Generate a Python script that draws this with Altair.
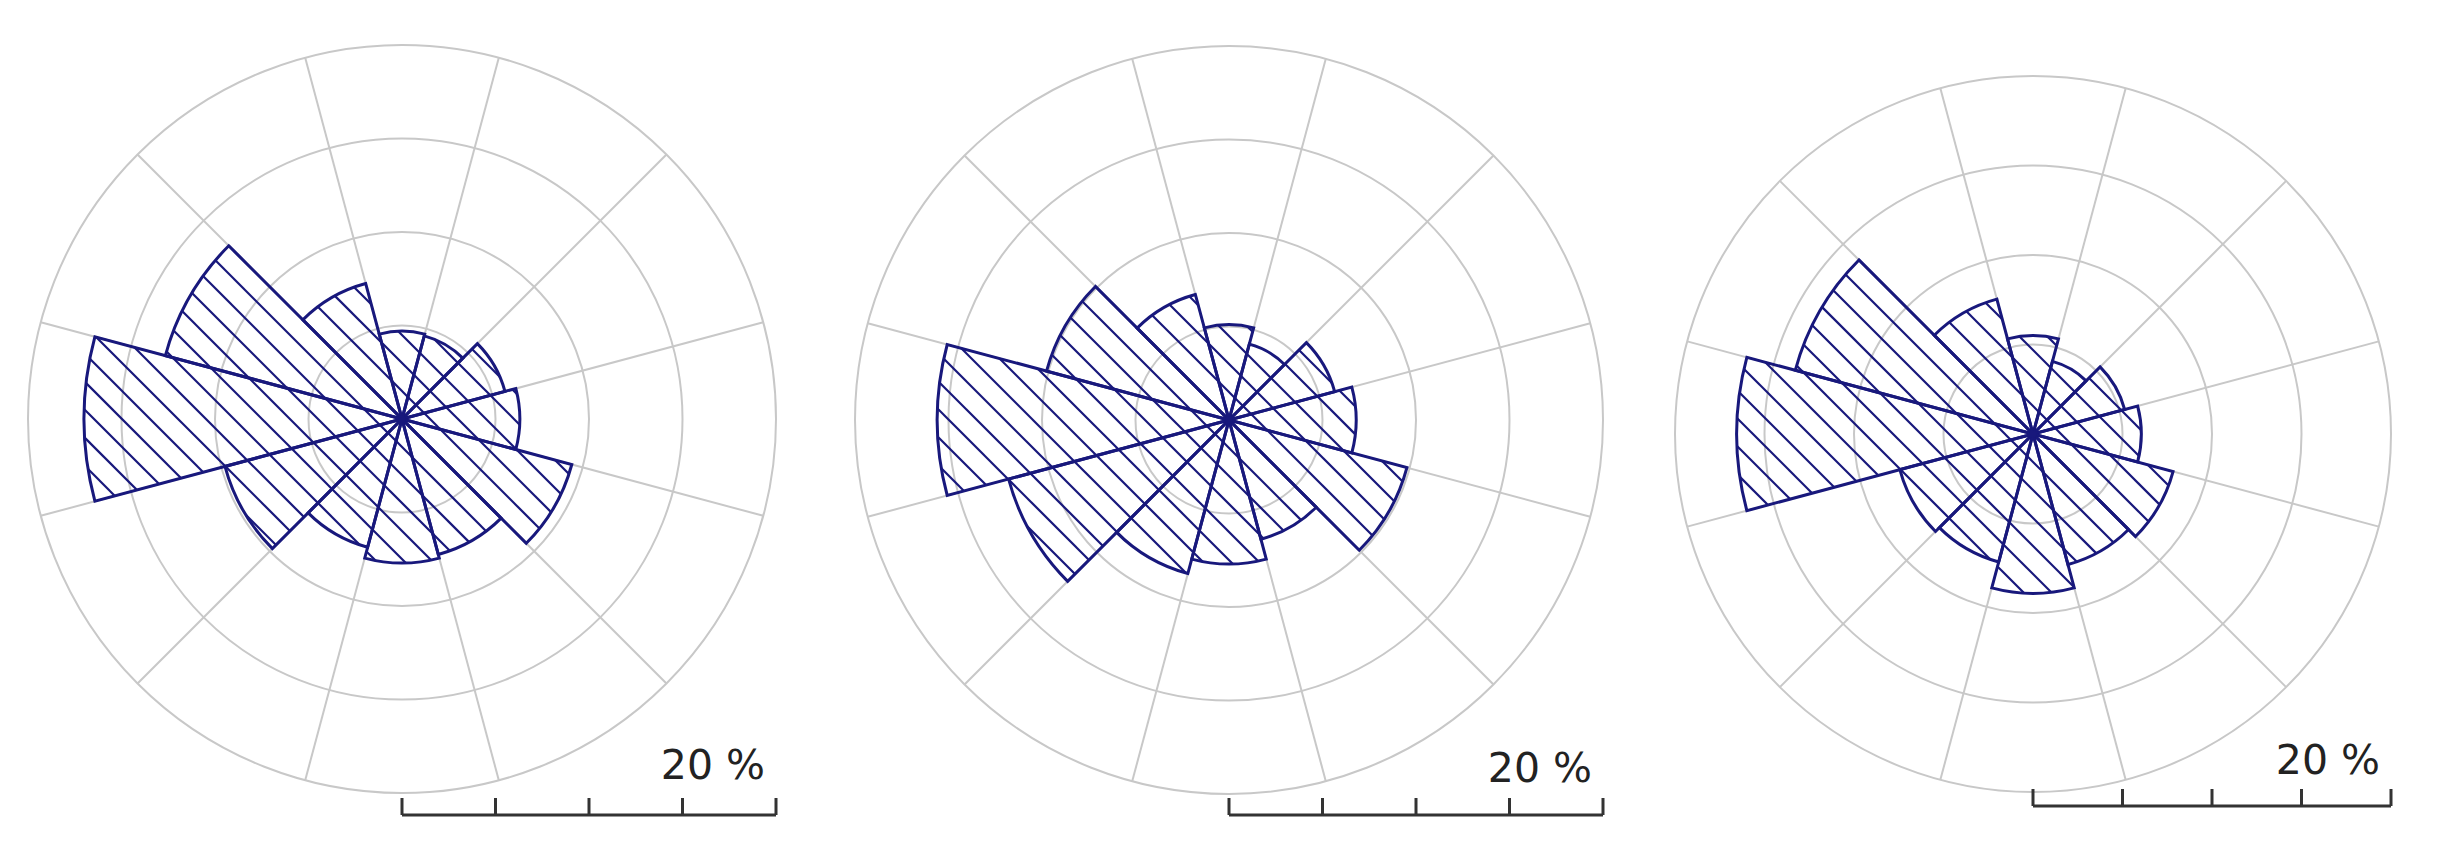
import math
import altair as alt
import pandas as pd

# ---------------- data (percent of time per 30-degree direction sector) ----------------
directions = [0, 30, 60, 90, 120, 150, 180, 210, 240, 270, 300, 330]
rose_a = [4.7, 4.6, 5.7, 6.3, 9.4, 7.5, 7.7, 7.1, 9.8, 17.0, 13.1, 7.5]
rose_b = [5.1, 4.2, 5.85, 6.8, 9.85, 6.6, 7.7, 8.5, 12.2, 15.6, 10.1, 6.95]
rose_c = [5.5, 4.2, 5.3, 6.05, 8.1, 7.55, 8.9, 7.4, 7.7, 16.55, 13.75, 7.8]
ring_levels = [5, 10, 15, 20]
scale_ticks = [0, 5, 10, 15, 20]
scale_label = "20 %"
SECTOR = 30
FULL = 20

# ---------------- styles / layout ----------------
NAVY = "#18187c"
GRID = "#c8c8c8"
INK = "#333333"
HEIGHT = 840
HATCH_PX = 28.0
layout = [
    {"values": rose_a, "width": 788, "cx": 394, "cy": 411, "radius": 374, "bar_gap": 396, "label_dy": -36},
    {"values": rose_b, "width": 866, "cx": 433, "cy": 412, "radius": 374, "bar_gap": 395, "label_dy": -33},
    {"values": rose_c, "width": 742, "cx": 371, "cy": 426, "radius": 358, "bar_gap": 372, "label_dy": -32},
]


def wedge_hatch(values, step):
    """Clip the diagonal hatch lines x + y = c to each wedge (data units)."""
    rows = []
    s2 = math.sqrt(2.0)
    u = (1 / s2, -1 / s2)
    cmax = max(values) * s2 + step
    n = int(cmax / step) + 1
    for d, v in zip(directions, values):
        a1 = math.radians(d - SECTOR / 2)
        a2 = math.radians(d + SECTOR / 2)
        d1 = (math.sin(a1), math.cos(a1))
        d2 = (math.sin(a2), math.cos(a2))
        for k in range(-n, n + 1):
            c = k * step
            p0 = (c / 2, c / 2)
            rem = v * v - c * c / 2
            if rem <= 0:
                continue
            h = math.sqrt(rem)
            lo, hi = -h, h
            ok = True
            for dv, sign in ((d1, -1.0), (d2, 1.0)):
                f0 = sign * (dv[0] * p0[1] - dv[1] * p0[0])
                f1 = sign * (dv[0] * u[1] - dv[1] * u[0])
                if abs(f1) < 1e-12:
                    if f0 < 0:
                        ok = False
                elif f1 > 0:
                    lo = max(lo, -f0 / f1)
                else:
                    hi = min(hi, -f0 / f1)
            if ok and hi - lo > 1e-6:
                rows.append({
                    "x": p0[0] + lo * u[0], "y": p0[1] + lo * u[1],
                    "x2": p0[0] + hi * u[0], "y2": p0[1] + hi * u[1],
                })
    return pd.DataFrame(rows)


def build_panel(spec):
    ppu = spec["radius"] / FULL
    w = spec["width"]
    xs = alt.Scale(domain=[-spec["cx"] / ppu, (w - spec["cx"]) / ppu], nice=False, zero=False)
    ys = alt.Scale(domain=[-(HEIGHT - spec["cy"]) / ppu, spec["cy"] / ppu], nice=False, zero=False)
    ts = alt.Scale(domain=[0, 360], range=[0, 2 * math.pi])
    rs = alt.Scale(type="linear", domain=[0, FULL], range=[0, spec["radius"]], nice=False)

    def X(f):
        return alt.X(f, scale=xs, axis=None)

    def Y(f):
        return alt.Y(f, scale=ys, axis=None)

    # grid rings
    rings = pd.DataFrame({"level": ring_levels, "t1": 0, "t2": 360, "ox": 0.0, "oy": 0.0})
    ring_layer = alt.Chart(rings).mark_arc(filled=False, stroke=GRID, strokeWidth=2).encode(
        x=X("ox:Q"), y=Y("oy:Q"),
        theta=alt.Theta("t1:Q", scale=ts, stack=False), theta2="t2:Q",
        radius=alt.Radius("level:Q", scale=rs),
    )

    # grid spokes on the sector boundaries
    bounds = [d + SECTOR / 2 for d in directions]
    spokes = pd.DataFrame({
        "x": 0.0, "y": 0.0,
        "x2": [FULL * math.sin(math.radians(b)) for b in bounds],
        "y2": [FULL * math.cos(math.radians(b)) for b in bounds],
    })
    spoke_layer = alt.Chart(spokes).mark_rule(stroke=GRID, strokeWidth=2).encode(
        x=X("x:Q"), y=Y("y:Q"), x2="x2:Q", y2="y2:Q"
    )

    # hatch
    hatch = wedge_hatch(spec["values"], HATCH_PX / ppu)
    hatch_layer = alt.Chart(hatch).mark_rule(stroke=NAVY, strokeWidth=2.2).encode(
        x=X("x:Q"), y=Y("y:Q"), x2="x2:Q", y2="y2:Q"
    )

    # bars (wedge outlines)
    bars = pd.DataFrame({
        "dir": directions,
        "t1": [d - SECTOR / 2 for d in directions],
        "t2": [d + SECTOR / 2 for d in directions],
        "pct": spec["values"], "ox": 0.0, "oy": 0.0,
    })
    bar_layer = alt.Chart(bars).mark_arc(
        filled=False, stroke=NAVY, strokeWidth=3, strokeJoin="miter"
    ).encode(
        x=X("ox:Q"), y=Y("oy:Q"),
        theta=alt.Theta("t1:Q", scale=ts, stack=False), theta2="t2:Q",
        radius=alt.Radius("pct:Q", scale=rs),
    )

    center = pd.DataFrame({"ox": [0.0], "oy": [0.0]})
    center_layer = alt.Chart(center).mark_circle(size=60, color=NAVY, opacity=1).encode(
        x=X("ox:Q"), y=Y("oy:Q")
    )

    # scale bar
    yb = -spec["bar_gap"] / ppu
    tick_len = 17 / ppu
    sbar = pd.DataFrame({"x": [scale_ticks[0]], "x2": [scale_ticks[-1]], "y": [yb]})
    sbar_layer = alt.Chart(sbar).mark_rule(stroke=INK, strokeWidth=3).encode(
        x=X("x:Q"), x2="x2:Q", y=Y("y:Q")
    )
    sticks = pd.DataFrame({"x": scale_ticks, "y": yb, "y2": yb + tick_len})
    stick_layer = alt.Chart(sticks).mark_rule(stroke=INK, strokeWidth=3).encode(
        x=X("x:Q"), y=Y("y:Q"), y2="y2:Q"
    )
    lab = pd.DataFrame({"x": [scale_ticks[-1]], "y": [yb], "t": [scale_label]})
    lab_layer = alt.Chart(lab).mark_text(
        align="right", baseline="alphabetic", dx=-11, dy=spec["label_dy"],
        fontSize=41, font="DejaVu Sans", color="#222222",
    ).encode(x=X("x:Q"), y=Y("y:Q"), text="t:N")

    return alt.layer(
        ring_layer, spoke_layer, hatch_layer, bar_layer, center_layer,
        sbar_layer, stick_layer, lab_layer,
    ).properties(width=w, height=HEIGHT)


chart = alt.hconcat(*[build_panel(s) for s in layout], spacing=0).properties(
    padding=0
).configure_view(stroke=None)

chart.save("out.html", embed_options={"renderer": "svg", "actions": False})
